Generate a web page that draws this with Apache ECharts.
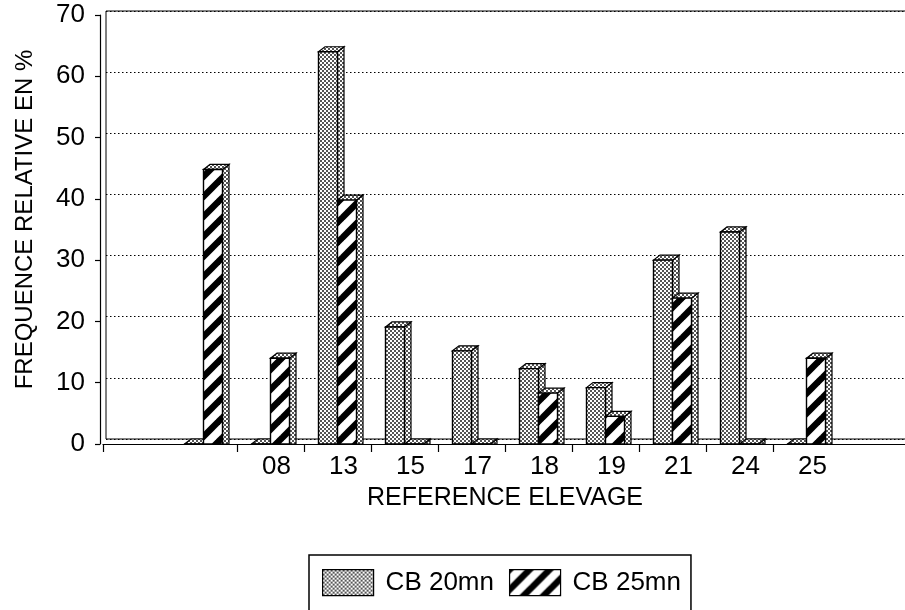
<!DOCTYPE html>
<html>
<head>
<meta charset="utf-8">
<script src="https://cdn.jsdelivr.net/npm/echarts@6/dist/echarts.min.js"></script>
<style>
  html, body { margin: 0; padding: 0; background: #fff; }
  #chart { width: 905px; height: 610px; }
</style>
</head>
<body>
<div id="chart"></div>
<script>
// ---- data ----
const categories = ['', ' ', '08', '13', '15', '17', '18', '19', '21', '24', '25', '  '];
const cb20 = [null, 0, 0, 64, 19.1, 15.2, 12.3, 9.2, 30, 34.6, 0, null];
const cb25 = [null, 44.8, 14, 39.8, 0, 0, 8.3, 4.5, 23.8, 0, 14, null];
const seriesNames = ['CB 20mn', 'CB 25mn'];
const yMin = 0, yMax = 70, yStep = 10;
const xTitle = 'REFERENCE ELEVAGE';
const yTitle = 'FREQUENCE RELATIVE EN %';

// ---- patterns ----
function makeStipple() {
  const c = document.createElement('canvas');
  c.width = 4; c.height = 4;
  const g = c.getContext('2d');
  g.fillStyle = '#fff'; g.fillRect(0, 0, 4, 4);
  g.fillStyle = '#555';
  g.fillRect(0, 0, 2, 2);
  g.fillRect(2, 2, 2, 2);
  return { image: c, repeat: 'repeat' };
}
function makeHatch() {
  const c = document.createElement('canvas');
  c.width = 20; c.height = 20;
  const g = c.getContext('2d');
  g.fillStyle = '#fff'; g.fillRect(0, 0, 20, 20);
  g.strokeStyle = '#000'; g.lineWidth = 6.5;
  for (let o = -20; o <= 20; o += 20) {
    g.beginPath(); g.moveTo(o - 2, 22); g.lineTo(o + 22, -2); g.stroke();
  }
  return { image: c, repeat: 'repeat' };
}
const stipple = makeStipple();
const hatch = makeHatch();

function toData(arr) {
  const out = [];
  arr.forEach((v, i) => { if (v !== null) out.push([i, v]); });
  return out;
}

function makeRender(side, frontFill) {
  return function (params, api) {
    const idx = api.value(0), v = api.value(1);
    const base = api.coord([idx, 0]);
    const top = api.coord([idx, v]);
    const band = api.size([1, 0])[0];
    const w = band * 19 / 67, dx = band * 6.5 / 67, dy = 5;
    const x0 = side === 0 ? base[0] - w : base[0];
    const yb = base[1], yt = top[1];
    const edge = { stroke: '#000', lineWidth: 1.2 };
    return {
      type: 'group',
      children: [
        { type: 'polygon',
          shape: { points: [[x0 + w, yt], [x0 + w + dx, yt - dy], [x0 + w + dx, yb], [x0 + w, yb]] },
          style: Object.assign({ fill: stipple }, edge) },
        { type: 'polygon',
          shape: { points: [[x0, yt], [x0 + dx, yt - dy], [x0 + w + dx, yt - dy], [x0 + w, yt]] },
          style: Object.assign({ fill: stipple }, edge) },
        { type: 'rect',
          shape: { x: x0, y: yt, width: w, height: Math.max(yb - yt, 0) },
          style: Object.assign({ fill: frontFill }, edge, { lineWidth: 1.4 }) }
      ]
    };
  };
}

const font = 'Liberation Sans, Arial, Helvetica, sans-serif';
const chart = echarts.init(document.getElementById('chart'), null, { renderer: 'canvas' });

chart.setOption({
  backgroundColor: '#fff',
  animation: false,
  textStyle: { fontFamily: font, color: '#000' },
  grid: [
    { left: 103, right: -2, top: 15, bottom: 166, show: false, outerBoundsMode: 'none', containLabel: false },
    { left: 106, right: -40, top: 11, bottom: 171, show: true, borderColor: '#000', borderWidth: 1,
      backgroundColor: 'transparent', outerBoundsMode: 'none', containLabel: false }
  ],
  legend: {
    left: 309, top: 555,
    orient: 'horizontal',
    icon: 'rect',
    itemWidth: 51, itemHeight: 26, itemGap: 15,
    padding: [14, 10, 30, 13],
    borderColor: '#000', borderWidth: 1.5,
    backgroundColor: '#fff',
    selectedMode: false,
    textStyle: { fontFamily: font, fontSize: 26, color: '#000', padding: [0, 0, 0, 7] },
    data: [
      { name: seriesNames[0], itemStyle: { color: stipple, borderColor: '#000', borderWidth: 1.2 } },
      { name: seriesNames[1], itemStyle: { color: hatch, borderColor: '#000', borderWidth: 1.2 } }
    ]
  },
  xAxis: [
    {
      gridIndex: 0, type: 'category', data: categories, boundaryGap: true,
      axisLine: { show: true, lineStyle: { color: '#000', width: 1.2 } },
      axisTick: { show: true, length: 8, lineStyle: { color: '#000', width: 1.2 },
        interval: function (index) { return index !== 1 && index !== 11; } },
      axisLabel: { fontFamily: font, fontSize: 26, color: '#000', margin: 10, lineHeight: 26,
        padding: [0, 0, 0, 12], interval: 0 },
      splitLine: { show: false },
      name: xTitle, nameLocation: 'middle', nameGap: 33,
      nameTextStyle: { fontFamily: font, fontSize: 25, color: '#000', lineHeight: 26 }
    },
    {
      gridIndex: 1, type: 'category', data: categories, boundaryGap: true, show: false
    }
  ],
  yAxis: [
    {
      gridIndex: 0, type: 'value', min: yMin, max: yMax, interval: yStep, offset: 3,
      axisLine: { show: true, lineStyle: { color: '#000', width: 1.2 } },
      axisTick: { show: true, length: 5, lineStyle: { color: '#000', width: 1.2 } },
      axisLabel: { fontFamily: font, fontSize: 26, color: '#000', margin: 15 },
      splitLine: { show: false },
      name: yTitle, nameLocation: 'middle', nameGap: 63,
      nameTextStyle: { fontFamily: font, fontSize: 24, color: '#000', lineHeight: 24, padding: [0, 0, 0, 20] }
    },
    {
      gridIndex: 1, type: 'value', min: yMin, max: yMax, interval: yStep,
      axisLine: { show: false }, axisTick: { show: false }, axisLabel: { show: false },
      splitLine: { show: true, lineStyle: { color: '#000', width: 1.2, type: [1.5, 2.5] } }
    }
  ],
  series: [
    {
      name: seriesNames[0], type: 'custom', xAxisIndex: 0, yAxisIndex: 0,
      renderItem: makeRender(0, stipple), clip: false, z: 3,
      itemStyle: { color: stipple, borderColor: '#000' },
      encode: { x: 0, y: 1 },
      data: toData(cb20)
    },
    {
      name: seriesNames[1], type: 'custom', xAxisIndex: 0, yAxisIndex: 0,
      renderItem: makeRender(1, hatch), clip: false, z: 4,
      itemStyle: { color: hatch, borderColor: '#000' },
      encode: { x: 0, y: 1 },
      data: toData(cb25)
    }
  ]
});
</script>
</body>
</html>
